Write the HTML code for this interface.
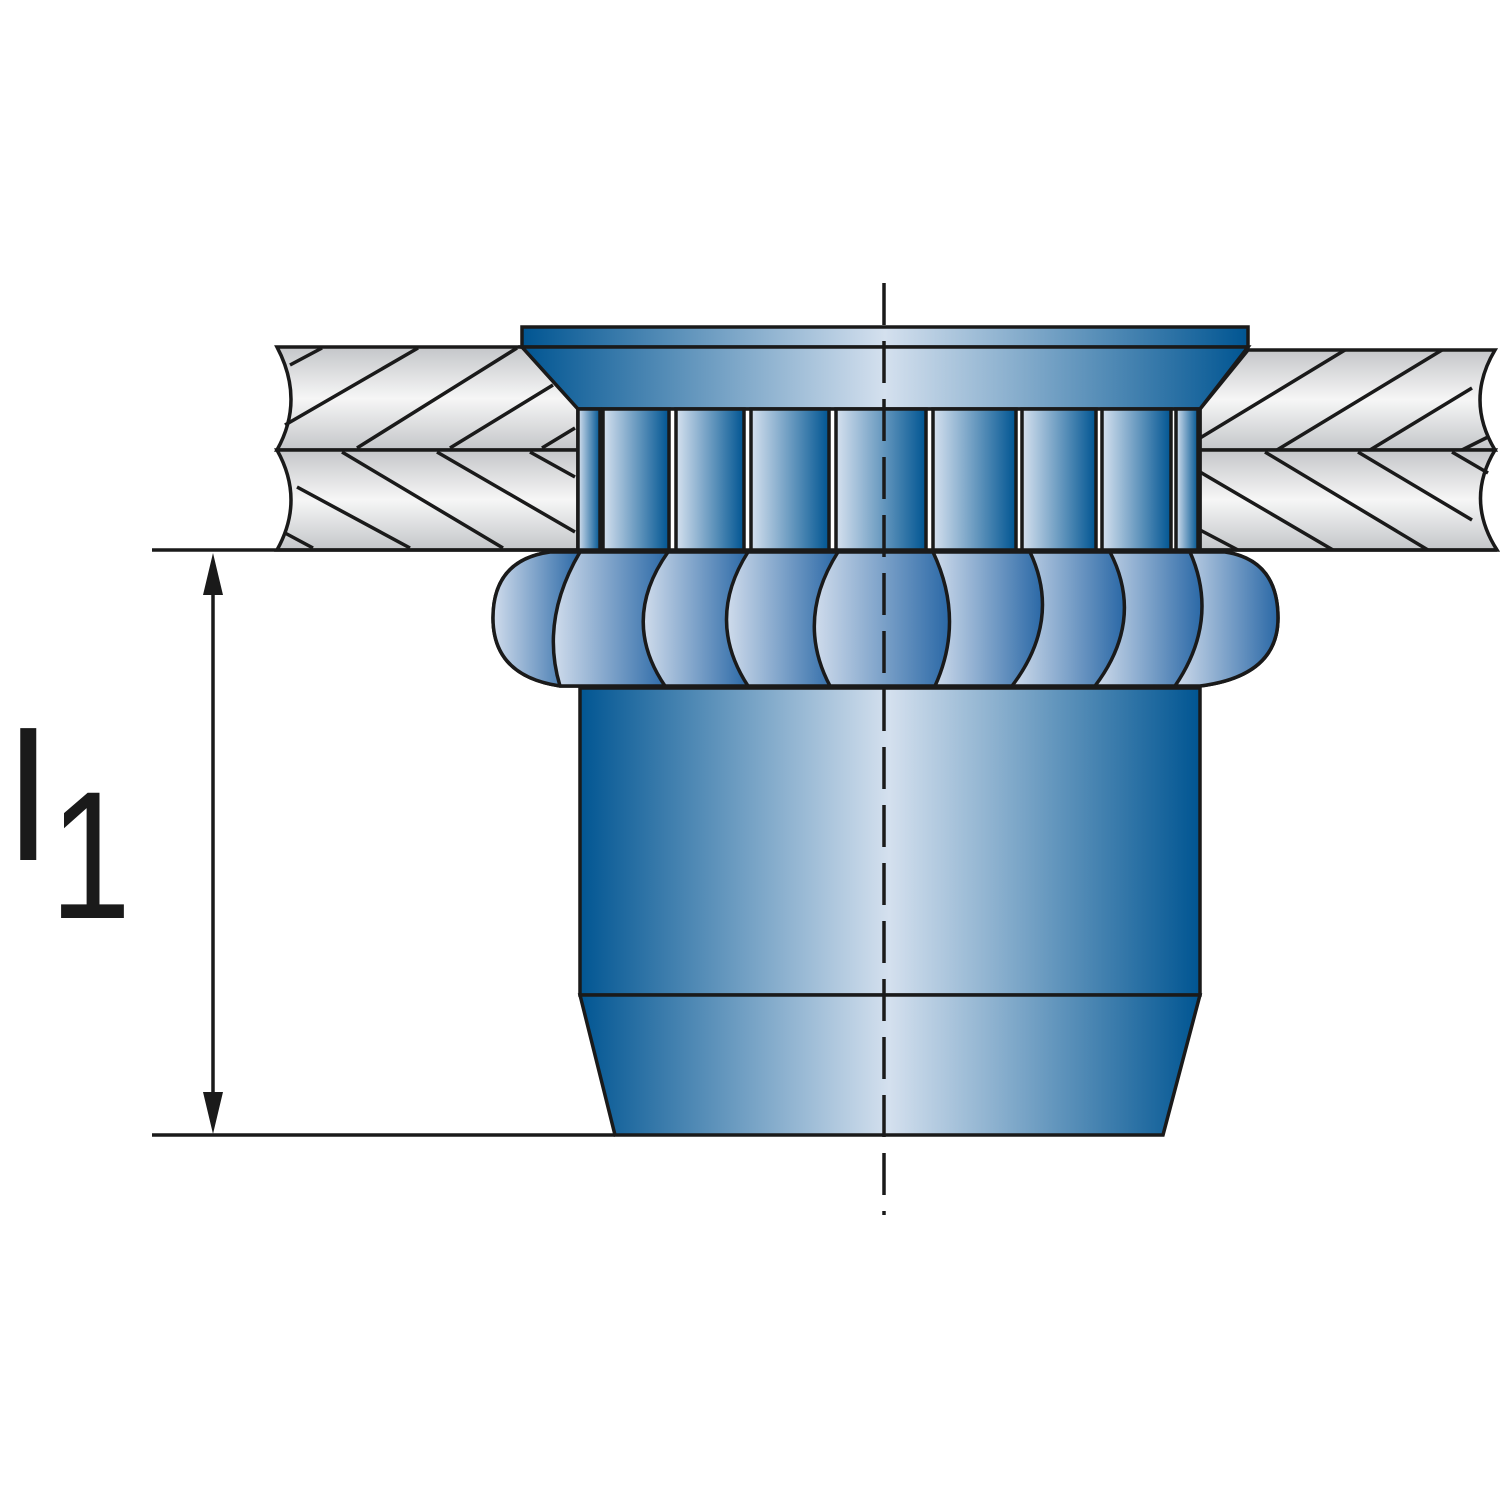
<!DOCTYPE html>
<html><head><style>html,body{margin:0;padding:0;background:#fff}svg{display:block}</style></head>
<body>
<svg width="1500" height="1500" viewBox="0 0 1500 1500" xmlns="http://www.w3.org/2000/svg">
<defs>
<linearGradient id="g" x1="578" x2="1200" y1="0" y2="0" gradientUnits="userSpaceOnUse">
<stop offset="0" stop-color="#005592"/><stop offset="0.5" stop-color="#d4e0ee"/><stop offset="1" stop-color="#005592"/></linearGradient>
<linearGradient id="gf" x1="522" x2="1248" gradientUnits="userSpaceOnUse">
<stop offset="0" stop-color="#005592"/><stop offset="0.5" stop-color="#d4e0ee"/><stop offset="1" stop-color="#005592"/></linearGradient>
<linearGradient id="rib" x1="0" x2="1" y1="0" y2="0"><stop offset="0" stop-color="#d6e1ef"/><stop offset="1" stop-color="#005592"/></linearGradient>
<linearGradient id="bs" x1="0" x2="1" y1="0" y2="0"><stop offset="0" stop-color="#d0dcec"/><stop offset="1" stop-color="#2a68a6"/></linearGradient>
<linearGradient id="pl" x1="0" x2="0" y1="0" y2="1"><stop offset="0" stop-color="#c4c6c9"/><stop offset="0.5" stop-color="#f6f6f6"/><stop offset="1" stop-color="#c4c6c9"/></linearGradient>
</defs>
<g stroke="#1a1a1a" stroke-width="3.5" fill="none">
<!-- plates -->
<path d="M277,347 L522,347 L578,409 L578,450 L277,450 Q305,400 277,347Z" fill="url(#pl)"/>
<path d="M277,450 L578,450 L578,550 L277,550 Q305,500 277,450Z" fill="url(#pl)"/>
<path d="M1248,350 L1495,350 Q1465,400 1495,450 L1200,450 L1200,409Z" fill="url(#pl)"/>
<path d="M1200,450 L1495,450 Q1465,500 1497,550 L1200,550Z" fill="url(#pl)"/>
<path d="M285,425 L418,348 M357,448 L517,348 M450,448 L553,385 M542,448 L575,428 M290,365 L322,348"/>
<path d="M342,452 L503,548 M437,452 L575,532 M530,452 L575,477 M297,487 L410,548 M285,533 L313,548"/>
<path d="M1200,438 L1345,350 M1277,450 L1442,350 M1370,450 L1472,388 M1462,450 L1488,437"/>
<path d="M1200,472 L1333,550 M1265,452 L1428,550 M1358,452 L1472,520 M1452,452 L1488,473 M1200,530 L1238,550"/>
<!-- flange -->
<rect x="522" y="327" width="726" height="20" fill="url(#gf)"/>
<path d="M522,347 L1248,347 L1200,409 L578,409Z" fill="url(#gf)"/>
<!-- knurl -->
<rect x="578" y="409" width="622" height="141" fill="#fff"/>
<g fill="url(#rib)">
<rect x="578" y="409" width="22" height="141"/>
<rect x="603" y="409" width="66" height="141"/>
<rect x="676" y="409" width="68" height="141"/>
<rect x="751" y="409" width="78" height="141"/>
<rect x="836" y="409" width="90" height="141"/>
<rect x="933" y="409" width="83" height="141"/>
<rect x="1022" y="409" width="74" height="141"/>
<rect x="1102" y="409" width="69" height="141"/>
<rect x="1176" y="409" width="22" height="141"/>
</g>
<!-- bulge -->
<path d="M550,552 L1225,552 Q1278,560 1278,618 Q1278,676 1200,686 L560,686 Q493,676 493,618 Q493,560 550,552Z" fill="url(#bs)"/>
<g fill="url(#bs)" stroke="none">
<path d="M550,552 L580,552 Q540,620 560,686 Q493,676 493,618 Q493,560 550,552Z"/>
<path d="M580,552 L668,552 Q620,620 665,686 L560,686 Q540,620 580,552Z"/>
<path d="M668,552 L748,552 Q705,620 748,686 L665,686 Q620,620 668,552Z"/>
<path d="M748,552 L838,552 Q795,620 830,686 L748,686 Q705,620 748,552Z"/>
<path d="M838,552 L933,552 Q965,620 935,686 L830,686 Q795,620 838,552Z"/>
<path d="M933,552 L1030,552 Q1062,620 1012,686 L935,686 Q965,620 933,552Z"/>
<path d="M1030,552 L1110,552 Q1145,620 1095,686 L1012,686 Q1062,620 1030,552Z"/>
<path d="M1110,552 L1190,552 Q1220,620 1175,686 L1095,686 Q1145,620 1110,552Z"/>
<path d="M1190,552 L1225,552 Q1278,560 1278,618 Q1278,676 1200,686 L1175,686 Q1220,620 1190,552Z"/>
</g>
<path d="M550,552 L1225,552 Q1278,560 1278,618 Q1278,676 1200,686 L560,686 Q493,676 493,618 Q493,560 550,552Z"/>
<path d="M580,552 Q540,620 560,686 M668,552 Q620,620 665,686 M748,552 Q705,620 748,686 M838,552 Q795,620 830,686 M933,552 Q965,620 935,686 M1030,552 Q1062,620 1012,686 M1110,552 Q1145,620 1095,686 M1190,552 Q1220,620 1175,686"/>
<!-- body -->
<rect x="580" y="688" width="620" height="307" fill="url(#g)"/>
<path d="M580,995 L1200,995 L1163,1135 L615,1135Z" fill="url(#g)"/>
<!-- dimension -->
<path d="M152,550 L578,550 M152,1135 L615,1135 M213,570 L213,1115"/>
<path d="M1200,550 L1497,550"/>
</g>
<path d="M213,553 L203,595 L223,595Z M213,1134 L203,1092 L223,1092Z" fill="#1a1a1a"/>
<line x1="884" y1="283" x2="884" y2="1215" stroke="#1a1a1a" stroke-width="3.5" stroke-dasharray="42,16"/>
<text x="8" y="860" font-family="Liberation Sans, sans-serif" font-size="182" fill="#1a1a1a">l</text>
<text transform="translate(50,918) scale(0.8,1)" font-family="Liberation Sans, sans-serif" font-size="182" fill="#1a1a1a">1</text>
</svg>
</body></html>
